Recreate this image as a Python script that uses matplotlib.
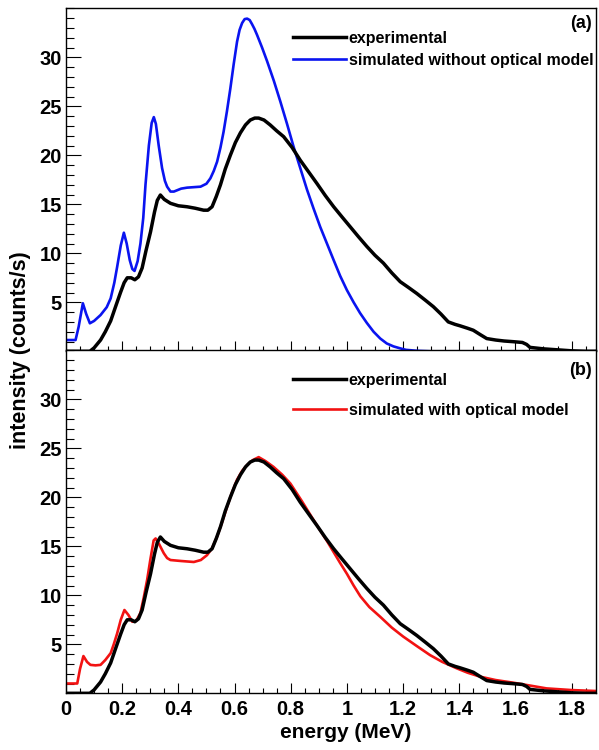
import numpy as np
import matplotlib
matplotlib.use('Agg')
import matplotlib.pyplot as plt
from matplotlib.ticker import MultipleLocator, FormatStrFormatter

plt.rcParams['font.family'] = ['Liberation Sans', 'DejaVu Sans']
plt.rcParams['font.weight'] = 'bold'

# Experimental spectrum (same data in both panels)
exp_energy = [0.0, 0.085, 0.10, 0.123, 0.14, 0.159, 0.177, 0.194, 0.207, 0.218,
              0.232, 0.245, 0.258, 0.271, 0.285, 0.301, 0.315, 0.325, 0.336, 0.35,
              0.372, 0.40, 0.431, 0.46, 0.49, 0.505, 0.52, 0.535, 0.55, 0.567,
              0.585, 0.603, 0.621, 0.639, 0.656, 0.672, 0.686, 0.705, 0.727, 0.75,
              0.775, 0.805, 0.834, 0.864, 0.894, 0.923, 0.953, 0.983, 1.012, 1.041,
              1.071, 1.10, 1.13, 1.16, 1.19, 1.22, 1.249, 1.28, 1.308, 1.335,
              1.361, 1.385, 1.403, 1.43, 1.45, 1.475, 1.498, 1.53, 1.56, 1.593,
              1.625, 1.64, 1.652, 1.70, 1.75, 1.80, 1.85, 1.89]
exp_counts = [0.0, 0.0, 0.35, 1.15, 2.0, 3.1, 4.6, 6.0, 7.0, 7.5,
              7.5, 7.3, 7.6, 8.5, 10.3, 12.2, 14.2, 15.4, 15.95, 15.5,
              15.1, 14.85, 14.75, 14.6, 14.4, 14.4, 14.75, 15.8, 17.0, 18.6,
              20.0, 21.3, 22.3, 23.1, 23.6, 23.8, 23.8, 23.6, 23.1, 22.5,
              21.9, 20.8, 19.5, 18.3, 17.1, 15.9, 14.75, 13.7, 12.7, 11.7,
              10.7, 9.8, 9.0, 8.0, 7.1, 6.5, 5.9, 5.2, 4.55, 3.8,
              3.0, 2.75, 2.6, 2.35, 2.15, 1.7, 1.3, 1.15, 1.05, 0.98,
              0.9, 0.7, 0.4, 0.25, 0.15, 0.05, 0.0, 0.0]

# Simulation without optical model (panel a)
sim_a_energy = [0.0, 0.034, 0.045, 0.06, 0.072, 0.085, 0.10, 0.123, 0.145, 0.159,
                0.172, 0.182, 0.195, 0.206, 0.216, 0.227, 0.236, 0.244, 0.255, 0.265,
                0.275, 0.283, 0.295, 0.305, 0.3126, 0.32, 0.33, 0.342, 0.352, 0.36,
                0.372, 0.384, 0.41, 0.431, 0.479, 0.50, 0.514, 0.526, 0.538, 0.55,
                0.561, 0.573, 0.585, 0.597, 0.609, 0.618, 0.627, 0.636, 0.645, 0.654,
                0.662, 0.671, 0.68, 0.698, 0.716, 0.74, 0.763, 0.787, 0.81, 0.834,
                0.858, 0.881, 0.905, 0.929, 0.953, 0.976, 1.0, 1.024, 1.047, 1.071,
                1.095, 1.119, 1.142, 1.166, 1.19, 1.21, 1.25, 1.30, 1.89]
sim_a_counts = [1.15, 1.15, 2.5, 4.9, 3.8, 2.86, 3.1, 3.7, 4.5, 5.4,
                7.0, 8.6, 10.8, 12.1, 11.0, 9.3, 8.4, 8.2, 9.2, 11.0,
                13.6, 17.0, 21.0, 23.3, 23.9, 23.2, 21.0, 18.7, 17.4, 16.8,
                16.3, 16.3, 16.6, 16.7, 16.8, 17.1, 17.65, 18.4, 19.35, 20.8,
                22.4, 24.5, 26.8, 29.3, 31.6, 32.8, 33.5, 33.9, 33.95, 33.8,
                33.4, 32.9, 32.3, 31.0, 29.6, 27.6, 25.5, 23.2, 20.9, 18.7,
                16.5, 14.6, 12.7, 11.0, 9.3, 7.7, 6.25, 5.0, 3.9, 2.9,
                2.0, 1.3, 0.8, 0.5, 0.3, 0.15, 0.05, 0.0, 0.0]

# Simulation with optical model (panel b)
sim_b_energy = [0.0, 0.04, 0.05, 0.062, 0.075, 0.087, 0.105, 0.123, 0.14, 0.159,
                0.17, 0.182, 0.195, 0.208, 0.222, 0.236, 0.25, 0.265, 0.277, 0.289,
                0.30, 0.312, 0.319, 0.33, 0.348, 0.36, 0.372, 0.41, 0.455, 0.48,
                0.502, 0.52, 0.538, 0.555, 0.573, 0.591, 0.609, 0.627, 0.645, 0.665,
                0.686, 0.71, 0.739, 0.77, 0.799, 0.84, 0.881, 0.93, 0.976, 1.0,
                1.024, 1.048, 1.08, 1.119, 1.16, 1.2, 1.25, 1.296, 1.34, 1.391,
                1.43, 1.474, 1.53, 1.593, 1.65, 1.711, 1.80, 1.89]
sim_b_counts = [1.0, 1.0, 2.5, 3.8, 3.2, 2.9, 2.85, 2.9, 3.4, 4.1,
                5.0, 6.1, 7.5, 8.5, 8.0, 7.3, 7.4, 8.2, 9.8, 11.6,
                13.6, 15.6, 15.8, 15.3, 14.3, 13.8, 13.6, 13.5, 13.4, 13.6,
                14.1, 14.8, 16.0, 17.4, 19.0, 20.5, 21.8, 22.7, 23.3, 23.8,
                24.1, 23.7, 23.1, 22.3, 21.4, 19.6, 17.7, 15.5, 13.3, 12.2,
                11.0, 9.9, 8.8, 7.8, 6.7, 5.8, 4.8, 3.9, 3.2, 2.55,
                2.1, 1.7, 1.35, 1.08, 0.8, 0.5, 0.33, 0.23]

y_ticks = [5, 10, 15, 20, 25, 30]

fig = plt.figure(figsize=(5.99, 7.5), dpi=100)
ax_a = fig.add_axes([0.1102, 0.5316, 0.8848, 0.4573])
ax_b = fig.add_axes([0.1102, 0.0756, 0.8848, 0.4573])

ax_a.plot(sim_a_energy, sim_a_counts, color='#0a14f0', lw=1.9, label='simulated without optical model', zorder=2)
ax_a.plot(exp_energy, exp_counts, color='black', lw=2.5, label='experimental', zorder=3)

ax_b.plot(sim_b_energy, sim_b_counts, color='#f21212', lw=1.9, label='simulated with optical model', zorder=2)
ax_b.plot(exp_energy, exp_counts, color='black', lw=2.5, label='experimental', zorder=3)

for ax in (ax_a, ax_b):
    ax.set_xlim(0, 1.887)
    ax.set_ylim(0, 35)
    ax.set_yticks(y_ticks)
    ax.yaxis.set_minor_locator(MultipleLocator(1))
    ax.xaxis.set_major_locator(MultipleLocator(0.2))
    ax.xaxis.set_minor_locator(MultipleLocator(0.05))
    ax.xaxis.set_major_formatter(FormatStrFormatter('%g'))
    ax.tick_params(axis='y', which='major', direction='in', length=11, width=0.8,
                   labelsize=14.5, pad=3)
    ax.tick_params(axis='y', which='minor', direction='in', length=6, width=0.8)
    ax.tick_params(axis='x', which='major', direction='in', length=7, width=0.8,
                   labelsize=14.5, pad=5)
    ax.tick_params(axis='x', which='minor', direction='in', length=3.6, width=0.8)
    for s in ax.spines.values():
        s.set_linewidth(1.0)
    # legend order: experimental first
    h, l = ax.get_legend_handles_labels()
    ax.legend(h[::-1], l[::-1], loc='upper left', frameon=False, fontsize=11.5,
              handlelength=3.3, handletextpad=0.2, borderpad=0, borderaxespad=0,
              bbox_to_anchor=(0.428, 0.935),
              labelspacing=0.45 if ax is ax_a else 0.95)

ax_a.tick_params(axis='x', labelbottom=False)
ax_a.text(0.993, 0.955, '(a)', transform=ax_a.transAxes, ha='right', va='center', fontsize=13)
ax_b.text(0.993, 0.94, '(b)', transform=ax_b.transAxes, ha='right', va='center', fontsize=13)

fig.text(346 / 599, 1 - 733 / 750, 'energy (MeV)', ha='center', va='center', fontsize=15)
fig.text(21 / 599, 1 - 350 / 750, 'intensity (counts/s)', ha='center', va='center',
         rotation=90, fontsize=15.5)

fig.savefig('out.png', dpi=100)
